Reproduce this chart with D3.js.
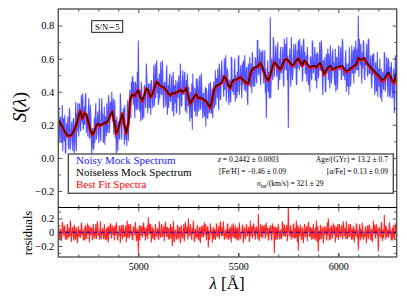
<!DOCTYPE html>
<html><head><meta charset="utf-8">
<script src="https://cdn.jsdelivr.net/npm/d3@7"></script>
<style>body{margin:0;background:#fff}svg{display:block}text{font-family:"Liberation Serif","DejaVu Serif",serif}</style>
</head><body><svg id="c" width="407" height="305"></svg>
<script>
// ---- data ----
const modelStart = 4600, modelStep = 10;
const noiseless = [0.232,0.21,0.19,0.165,0.145,0.134,0.135,0.145,0.17,0.20,
0.245,0.28,0.238,0.27,0.265,0.22,0.172,0.142,0.16,0.195,
0.208,0.196,0.205,0.21,0.214,0.228,0.26,0.278,0.218,0.15,
0.175,0.225,0.264,0.205,0.152,0.21,0.36,0.38,0.375,0.392,
0.408,0.368,0.348,0.38,0.418,0.41,0.37,0.385,0.42,0.458,
0.452,0.436,0.432,0.424,0.41,0.39,0.38,0.392,0.392,0.396,
0.402,0.412,0.398,0.405,0.422,0.37,0.33,0.352,0.372,0.384,
0.362,0.364,0.36,0.35,0.344,0.322,0.306,0.36,0.418,0.435,
0.442,0.448,0.462,0.49,0.476,0.44,0.425,0.462,0.472,0.474,
0.482,0.487,0.478,0.466,0.455,0.45,0.51,0.535,0.546,0.55,
0.558,0.572,0.552,0.515,0.484,0.472,0.502,0.548,0.576,0.566,
0.55,0.535,0.56,0.592,0.598,0.59,0.572,0.56,0.57,0.59,
0.598,0.58,0.562,0.59,0.578,0.56,0.548,0.556,0.556,0.55,
0.565,0.575,0.54,0.51,0.532,0.55,0.558,0.537,0.54,0.548,
0.551,0.555,0.557,0.538,0.525,0.53,0.54,0.55,0.558,0.566,
0.605,0.594,0.598,0.606,0.58,0.565,0.552,0.538,0.525,0.512,
0.5,0.488,0.47,0.478,0.5,0.518,0.495,0.47,0.458,0.515];
const bestFit = [0.228,0.206,0.186,0.162,0.142,0.13,0.133,0.143,0.168,0.198,
0.242,0.284,0.234,0.272,0.262,0.216,0.168,0.138,0.158,0.193,
0.206,0.193,0.203,0.208,0.212,0.226,0.258,0.282,0.214,0.145,
0.172,0.222,0.268,0.2,0.146,0.205,0.355,0.384,0.372,0.39,
0.41,0.364,0.342,0.378,0.42,0.408,0.366,0.382,0.418,0.46,
0.45,0.433,0.43,0.42,0.406,0.385,0.376,0.39,0.39,0.394,
0.4,0.414,0.395,0.403,0.425,0.365,0.325,0.35,0.37,0.386,
0.358,0.362,0.357,0.347,0.34,0.318,0.3,0.356,0.416,0.432,
0.44,0.446,0.46,0.494,0.472,0.435,0.42,0.46,0.47,0.472,
0.48,0.488,0.474,0.462,0.45,0.444,0.506,0.532,0.544,0.548,
0.556,0.574,0.548,0.51,0.478,0.466,0.498,0.546,0.578,0.562,
0.546,0.53,0.556,0.59,0.6,0.586,0.568,0.555,0.566,0.588,
0.6,0.576,0.556,0.588,0.574,0.555,0.543,0.552,0.552,0.546,
0.562,0.572,0.534,0.5,0.527,0.546,0.554,0.532,0.536,0.544,
0.547,0.551,0.553,0.532,0.518,0.525,0.535,0.546,0.554,0.563,
0.602,0.59,0.594,0.603,0.574,0.559,0.546,0.532,0.518,0.505,
0.493,0.48,0.462,0.47,0.494,0.512,0.487,0.462,0.45,0.508];
const noisyStart = 4600, noisyStep = 2.5;
const noisy = [
0.32,0.30,0.18,0.10,0.23,0.25,0.09,0.10,0.32,0.04,0.22,0.24,0.10,0.26,0.03,0.03,0.21,0.12,0.15,0.25,
0.08,0.05,0.30,0.28,0.05,0.09,0.17,0.22,0.13,0.04,0.24,0.21,0.03,0.08,0.23,0.34,0.04,0.27,0.16,0.33,
0.24,0.13,0.33,0.30,0.18,0.16,0.38,0.33,0.21,0.39,0.17,0.21,0.31,0.20,0.37,0.39,0.15,0.22,0.25,0.13,
0.28,0.36,0.12,0.12,0.32,0.25,0.10,0.02,0.17,0.18,0.06,0.05,0.24,0.09,
0.26,0.33,0.11,0.15,0.24,0.28,0.16,0.09,0.36,0.24,0.13,0.10,0.27,0.36,0.21,0.27,0.09,0.12,0.31,0.08,
0.25,0.24,0.13,0.33,0.19,0.15,0.35,0.38,0.15,0.20,0.33,0.34,0.26,0.40,0.22,0.23,0.36,0.14,0.27,0.35,
0.12,0.23,0.02,0.25,0.15,0.04,0.21,0.22,0.12,0.11,0.39,0.32,0.20,0.11,0.27,0.20,0.30,0.29,0.08,0.32,
0.11,0.13,0.19,0.07,0.31,0.35,0.10,0.19,0.31,0.41,0.32,0.24,0.46,0.35,
0.49,0.49,0.32,0.46,0.37,0.24,0.46,0.44,0.29,0.33,0.52,0.29,0.71,0.44,0.31,0.28,0.41,0.22,0.46,0.42,
0.23,0.27,0.37,0.24,0.44,0.42,0.33,0.30,0.57,0.50,0.37,0.27,0.44,0.45,0.30,0.31,0.45,0.26,0.47,0.43,
0.35,0.30,0.43,0.56,0.31,0.37,0.57,0.36,0.50,0.59,0.39,0.48,0.32,0.34,0.51,0.36,0.45,0.58,0.39,0.38,
0.59,0.50,0.34,0.30,0.45,0.46,0.40,0.31,0.49,0.56,0.26,0.34,0.44,0.30,
0.48,0.51,0.34,0.35,0.41,0.50,0.28,0.31,0.52,0.25,0.43,0.44,0.33,0.47,0.27,0.28,0.46,0.36,0.41,0.50,
0.36,0.26,0.57,0.47,0.32,0.31,0.43,0.53,0.39,0.38,0.49,0.52,0.28,0.34,0.47,0.27,0.51,0.43,0.31,0.43,
0.34,0.22,0.40,0.38,0.24,0.45,0.17,0.51,0.33,0.43,0.29,0.28,0.42,0.25,0.48,0.41,0.25,0.48,0.36,0.28,
0.42,0.50,0.29,0.31,0.51,0.43,0.31,0.24,0.39,0.39,0.26,0.25,0.43,0.19,
0.42,0.40,0.24,0.24,0.35,0.45,0.27,0.28,0.46,0.43,0.27,0.27,0.42,0.24,0.39,0.46,0.30,0.36,0.53,0.32,
0.48,0.48,0.36,0.54,0.41,0.29,0.57,0.51,0.35,0.36,0.53,0.59,0.45,0.50,0.42,0.37,0.60,0.41,0.54,0.62,
0.34,0.42,0.54,0.52,0.42,0.32,0.47,0.47,0.34,0.34,0.61,0.60,0.41,0.40,0.48,0.38,0.53,0.60,0.34,0.50,
0.40,0.36,0.52,0.40,0.61,0.62,0.38,0.44,0.51,0.56,0.45,0.36,0.57,0.44,
0.59,0.57,0.41,0.62,0.46,0.40,0.53,0.55,0.36,0.32,0.57,0.50,0.45,0.61,0.43,0.44,0.57,0.39,0.64,0.59,
0.43,0.48,0.55,0.43,0.61,0.59,0.48,0.45,0.71,0.71,0.51,0.50,0.60,0.66,0.48,0.44,0.64,0.53,0.64,0.65,
0.50,0.45,0.54,0.65,0.39,0.54,0.24,0.41,0.52,0.59,0.40,0.52,0.36,0.39,0.85,0.36,0.54,0.60,0.50,0.47,
0.73,0.70,0.49,0.55,0.61,0.68,0.55,0.49,0.64,0.70,0.41,0.50,0.60,0.47,
0.63,0.67,0.51,0.52,0.58,0.67,0.47,0.43,0.72,0.53,0.64,0.69,0.53,0.73,0.47,0.62,0.18,0.48,0.59,0.66,
0.52,0.43,0.73,0.61,0.47,0.49,0.60,0.69,0.55,0.54,0.66,0.69,0.45,0.44,0.65,0.54,0.71,0.69,0.53,0.72,
0.57,0.55,0.64,0.68,0.46,0.49,0.70,0.72,0.56,0.64,0.51,0.51,0.62,0.46,0.67,0.61,0.44,0.46,0.56,0.40,
0.61,0.61,0.49,0.47,0.71,0.69,0.51,0.53,0.59,0.67,0.47,0.47,0.63,0.42,
0.64,0.62,0.48,0.50,0.61,0.70,0.53,0.53,0.71,0.65,0.47,0.38,0.59,0.58,0.51,0.61,0.40,0.40,0.63,0.51,
0.58,0.66,0.47,0.63,0.53,0.42,0.68,0.61,0.45,0.48,0.61,0.66,0.53,0.58,0.48,0.44,0.66,0.40,0.60,0.61,
0.41,0.46,0.63,0.68,0.54,0.53,0.59,0.67,0.47,0.48,0.72,0.70,0.50,0.50,0.55,0.47,0.60,0.65,0.40,0.57,
0.46,0.43,0.57,0.38,0.67,0.60,0.43,0.45,0.57,0.68,0.51,0.52,0.65,0.45,
0.67,0.64,0.51,0.71,0.56,0.53,0.66,0.53,0.86,0.49,0.72,0.64,0.56,0.69,0.52,0.45,0.64,0.54,0.71,0.70,
0.49,0.47,0.60,0.56,0.64,0.69,0.51,0.49,0.72,0.71,0.51,0.51,0.58,0.62,0.46,0.42,0.62,0.50,0.63,0.63,
0.49,0.38,0.54,0.58,0.40,0.42,0.64,0.37,0.54,0.53,0.43,0.60,0.36,0.41,0.54,0.34,0.48,0.52,0.43,0.41,
0.64,0.61,0.40,0.46,0.53,0.61,0.49,0.37,0.60,0.58,0.37,0.42,0.55,0.36,
0.58,0.51,0.43,0.36,0.49,0.54,0.27,0.34,0.62,0.46,0.56];
const residStart = 4600, residStep = 2.5;
const residuals = [
0.10,0.06,-0.07,-0.10,0.04,0.03,-0.13,-0.08,0.15,0.12,-0.02,-0.05,0.08,0.09,-0.11,0.02,-0.05,-0.11,0.12,0.07,-0.09,-0.04,0.06,-0.06,0.17,0.10,-0.14,-0.03,0.03,0.08,-0.06,-0.12,0.11,0.05,-0.10,-0.09,0.07,0.02,-0.16,-0.11,0.09,-0.07,0.01,0.04,-0.08,-0.06,0.14,0.10,-0.04,0.03,-0.12,-0.08,0.06,-0.12,0.10,0.05,-0.09,-0.09,0.13,0.02,-0.03,0.11,-0.15,-0.07,0.08,-0.04,0.05,0.06,-0.11,-0.10,0.12,0.03,-0.07,-0.08,0.02,0.12,-0.10,-0.05,0.16,0.09,-0.05,0.02,
-0.05,-0.11,0.16,0.07,-0.10,-0.04,0.02,0.06,-0.07,-0.10,0.12,0.03,-0.11,-0.08,0.05,-0.12,0.08,0.05,-0.15,0.09,-0.03,-0.02,0.13,0.11,-0.09,-0.07,0.10,-0.04,0.06,0.06,-0.12,0.10,-0.04,-0.03,0.14,0.08,-0.08,-0.12,0.01,-0.05,0.09,0.09,-0.16,-0.02,0.07,0.11,-0.10,-0.07,0.11,0.04,-0.06,-0.06,0.03,0.10,-0.14,-0.03,0.17,-0.08,0.06,0.12,-0.09,-0.05,0.12,0.09,-0.05,0.02,-0.11,-0.11,0.08,0.07,-0.02,-0.04,0.15,0.06,-0.13,-0.10,0.04,0.03,-0.30,-0.08,0.10,-0.12,
0.09,-0.05,0.01,0.09,-0.08,-0.02,0.14,0.11,-0.04,0.07,-0.12,-0.04,0.06,-0.06,0.10,-0.10,0.22,-0.03,0.13,0.08,-0.03,0.12,-0.15,-0.05,0.08,-0.09,0.05,0.02,-0.11,-0.11,0.12,0.07,-0.07,-0.04,0.02,0.06,-0.10,-0.10,0.16,0.03,-0.05,-0.08,0.10,0.12,-0.07,-0.05,0.04,0.09,-0.13,-0.02,0.15,0.11,-0.02,-0.07,0.08,0.04,-0.11,0.06,-0.05,-0.10,0.12,0.03,-0.09,0.08,-0.20,-0.12,0.17,0.05,-0.14,-0.09,0.03,0.02,-0.06,-0.11,0.11,0.07,-0.10,-0.04,0.07,0.06,-0.16,-0.10,
0.10,0.03,-0.07,-0.08,0.04,0.12,-0.13,-0.05,0.15,0.09,-0.02,-0.02,0.08,-0.11,0.20,0.07,-0.05,-0.04,0.12,0.06,-0.09,-0.10,0.06,-0.03,0.17,0.08,-0.14,-0.12,0.03,0.05,-0.06,-0.09,0.11,0.02,-0.10,-0.11,0.07,0.07,-0.16,-0.04,0.09,-0.06,0.01,0.10,-0.08,-0.03,0.14,0.08,-0.04,0.12,-0.12,-0.05,0.06,0.09,-0.22,0.02,-0.09,-0.11,0.13,0.07,-0.03,0.04,-0.15,-0.06,0.08,-0.10,0.05,0.03,-0.11,-0.08,0.12,0.12,-0.07,-0.05,0.02,0.09,-0.10,-0.02,0.16,0.11,-0.05,0.07,
-0.05,-0.04,0.16,0.06,-0.10,-0.10,0.02,0.03,-0.07,-0.08,0.12,0.12,-0.11,-0.05,0.05,-0.09,0.08,0.02,-0.15,0.11,-0.03,-0.07,0.13,0.04,-0.09,-0.06,0.10,-0.10,0.06,0.03,-0.12,0.08,-0.04,-0.12,0.14,0.05,-0.08,-0.09,0.01,-0.02,0.09,0.11,-0.16,-0.07,0.07,0.04,-0.10,-0.06,0.11,0.10,-0.06,-0.03,0.03,0.08,-0.14,-0.12,0.17,-0.05,0.06,0.09,-0.09,-0.02,0.12,0.11,-0.05,0.07,-0.11,-0.04,0.08,0.06,-0.02,-0.10,0.27,0.03,-0.13,-0.08,0.04,0.12,-0.07,-0.05,0.10,-0.09,
0.09,-0.02,0.01,0.11,-0.08,-0.07,0.14,0.04,-0.04,0.06,-0.12,-0.10,0.06,-0.03,0.10,0.08,-0.09,-0.12,0.13,0.05,-0.03,0.09,-0.30,-0.02,0.08,-0.11,0.05,0.07,-0.11,-0.04,0.12,0.06,-0.07,-0.10,0.02,0.03,-0.10,-0.08,0.16,0.12,-0.05,-0.05,0.10,0.09,-0.07,-0.02,0.04,0.11,-0.13,-0.07,0.36,0.04,-0.02,-0.06,0.08,0.10,-0.11,0.03,-0.05,-0.08,0.12,0.12,-0.09,-0.05,0.06,-0.09,0.17,0.02,-0.14,0.11,-0.27,0.07,-0.06,-0.04,0.11,0.06,-0.10,-0.10,0.07,0.03,-0.16,-0.08,
0.10,0.12,-0.07,-0.05,0.04,0.09,-0.13,-0.02,0.15,0.11,-0.02,-0.07,0.08,0.04,-0.11,0.06,-0.05,-0.10,0.12,0.03,-0.09,-0.08,0.06,-0.12,0.17,0.05,-0.14,0.09,-0.28,0.02,-0.06,-0.11,0.11,0.07,-0.10,-0.04,0.07,0.06,-0.16,-0.10,0.09,-0.03,0.01,0.08,-0.08,-0.12,0.14,-0.05,0.20,0.09,-0.12,-0.02,0.06,-0.11,0.10,0.07,-0.09,-0.04,0.13,0.06,-0.03,0.10,-0.15,-0.03,0.08,-0.08,0.05,0.12,-0.11,-0.05,0.12,0.09,-0.07,-0.02,0.02,0.11,-0.10,-0.07,0.16,0.04,-0.05,0.06,
-0.05,-0.10,0.16,0.03,-0.10,-0.08,0.02,0.12,-0.07,-0.05,0.12,0.09,-0.11,-0.02,0.05,-0.11,0.08,0.07,-0.15,0.04,-0.03,-0.06,0.13,0.10,-0.09,0.03,-0.26,-0.08,0.06,0.12,-0.12,0.05,-0.04,-0.09,0.14,0.02,-0.08,-0.11,0.01,-0.07,0.09,0.04,-0.16,-0.06,0.07,0.10,-0.10,-0.03,0.11,0.08,-0.06,-0.12,0.03,0.05,-0.14,-0.09,0.17,-0.02,0.06,0.11,-0.09,-0.07,0.12,0.04,-0.05,0.06,-0.28,-0.10,0.08,0.03,-0.02,-0.08,0.15,0.12,-0.13,-0.05,0.04,-0.09,0.25,-0.02,0.10,-0.11,
0.09,-0.07,0.01,0.04,-0.08,-0.06,0.14,0.10,-0.04,0.03,-0.12,-0.08,0.06,-0.12,0.10,0.05,-0.09,-0.09,0.13,0.02,-0.03];
const xMajorTicks = [5000, 5500, 6000];
const yTopTicks = [-0.2, 0, 0.2, 0.4, 0.6, 0.8];
const yBotTicks = [-0.2, 0, 0.2];
const yBotLabels = ["\u22120.2", "0", "0.2"];
const legendLabels = ["Noisy Mock Spectrum", "Noiseless Mock Spectrum", "Best Fit Spectra"];

// ---- layout ----
const svg = d3.select("#c");
const L = 58.3, R = 396.7, T1 = 9, B1 = 207.5, B2 = 257;
const x = d3.scaleLinear([4600, 6292], [L, R]);
const yT = d3.scaleLinear([-0.3, 0.9], [B1, T1]);
const yB = d3.scaleLinear([-0.36, 0.36], [B2, B1]);
const fmt = d => d3.format(".1f")(d).replace("-", "\u2212");

const defs = svg.append("defs");
defs.append("clipPath").attr("id","ct").append("rect").attr("x",L).attr("y",T1).attr("width",R-L).attr("height",B1-T1);
defs.append("clipPath").attr("id","cb").append("rect").attr("x",L).attr("y",B1).attr("width",R-L).attr("height",B2-B1);

// top panel series
const gT = svg.append("g").attr("clip-path","url(#ct)");
gT.append("path").datum(noisy)
  .attr("d", d3.line().x((d,i)=>x(noisyStart+i*noisyStep)).y(d=>yT(d)))
  .attr("fill","none").attr("stroke","#2626ff").attr("stroke-opacity",0.8).attr("stroke-width",1.05);
gT.append("path").datum(bestFit)
  .attr("d", d3.line().x((d,i)=>x(modelStart+i*modelStep)).y(d=>yT(d)))
  .attr("fill","none").attr("stroke","#ff0000").attr("stroke-width",2.8).attr("stroke-linejoin","round");
gT.append("path").datum(noiseless)
  .attr("d", d3.line().x((d,i)=>x(modelStart+i*modelStep)).y(d=>yT(d)))
  .attr("fill","none").attr("stroke","#000").attr("stroke-width",1.1).attr("stroke-linejoin","round");

// bottom panel
const gB = svg.append("g").attr("clip-path","url(#cb)");
gB.append("path").datum(residuals)
  .attr("d", d3.line().x((d,i)=>x(residStart+i*residStep)).y(d=>yB(d)))
  .attr("fill","none").attr("stroke","#ff0000").attr("stroke-opacity",0.85).attr("stroke-width",1.05);
gB.append("line").attr("x1",L).attr("x2",R).attr("y1",yB(0)).attr("y2",yB(0))
  .attr("stroke","#0000ff").attr("stroke-width",1).attr("stroke-dasharray","4,3");

// axes helper
function ax(gen, tr, size, vals, labels){
  const g = svg.append("g").attr("transform", tr).call(gen.tickValues(vals).tickSize(size).tickPadding(4).tickFormat(labels||""));
  g.select(".domain").remove();
  g.selectAll("line").attr("stroke","#222").attr("stroke-width",0.8);
  g.selectAll("text").attr("font-size",10.5).attr("fill","#000").style("font-family","'Liberation Serif',serif");
  return g;
}
const xMinor = d3.range(4700, 6292, 100).filter(v => v%500!==0);
[[T1, d3.axisTop],[B1, d3.axisBottom],[B1, d3.axisTop],[B2, d3.axisBottom]].forEach(([yy, gen]) => {
  ax(gen(x), `translate(0,${yy})`, -4, xMajorTicks);
  ax(gen(x), `translate(0,${yy})`, -2.5, xMinor);
});
ax(d3.axisBottom(x), `translate(0,${B2})`, -4, xMajorTicks, d3.format("d")).selectAll("text").attr("dy","0.9em").attr("font-size",10);
ax(d3.axisLeft(yT), `translate(${L},0)`, -4, yTopTicks, fmt);
ax(d3.axisLeft(yT), `translate(${L},0)`, -2.5, [-0.1,0.1,0.3,0.5,0.7]);
ax(d3.axisRight(yT), `translate(${R},0)`, -4, yTopTicks);
ax(d3.axisRight(yT), `translate(${R},0)`, -2.5, [-0.1,0.1,0.3,0.5,0.7]);
ax(d3.axisLeft(yB), `translate(${L},0)`, -4, yBotTicks, (d,i)=>yBotLabels[i]);
ax(d3.axisLeft(yB), `translate(${L},0)`, -2.5, [-0.3,-0.1,0.1,0.3]);
ax(d3.axisRight(yB), `translate(${R},0)`, -4, yBotTicks);
ax(d3.axisRight(yB), `translate(${R},0)`, -2.5, [-0.3,-0.1,0.1,0.3]);

// frames
svg.append("rect").attr("x",L).attr("y",T1).attr("width",R-L).attr("height",B2-T1)
  .attr("fill","none").attr("stroke","#555").attr("stroke-width",1.4);
svg.append("line").attr("x1",L).attr("x2",R).attr("y1",B1).attr("y2",B1).attr("stroke","#000").attr("stroke-width",1);

// S/N box
svg.append("rect").attr("x",91.7).attr("y",20.7).attr("width",31).attr("height",11.6).attr("fill","#fff").attr("stroke","#000").attr("stroke-width",0.9);
svg.append("text").attr("x",107.2).attr("y",29.6).attr("text-anchor","middle").attr("font-size",8.5).text("S/N\u223C5");

// legend box
svg.append("rect").attr("x",68.3).attr("y",154).attr("width",325).attr("height",39.3).attr("fill","#fff").attr("stroke","#444").attr("stroke-width",1.3);
const lc = ["#2020ff","#000","#ff0000"];
legendLabels.forEach((t,i)=>{
  svg.append("text").attr("x",76).attr("y",164+i*11.9).attr("font-size",11).attr("fill",lc[i]).text(t);
});
const info = svg.append("g").attr("font-size",7.6);
let t1 = info.append("text").attr("x",218).attr("y",162);
t1.append("tspan").attr("font-style","italic").text("z");
t1.append("tspan").text(" = 0.2442 \u00B1 0.0003");
info.append("text").attr("x",388).attr("y",162).attr("text-anchor","end").text("Age/(GYr) = 13.2 \u00B1 0.7");
info.append("text").attr("x",219).attr("y",174.2).text("[Fe/H] = \u22120.46 \u00B1 0.09");
info.append("text").attr("x",388).attr("y",174.2).attr("text-anchor","end").text("[\u03B1/Fe] = 0.13 \u00B1 0.09");
let t3 = info.append("text").attr("x",257).attr("y",186);
t3.append("tspan").attr("font-style","italic").text("\u03C3");
t3.append("tspan").attr("font-size",5.5).attr("dy",1.8).text("int");
t3.append("tspan").attr("dy",-1.8).text("/(km/s) = 321 \u00B1 29");

// axis titles
const yl = svg.append("text").attr("transform","translate(26,107) rotate(-90)").attr("text-anchor","middle").attr("font-size",19);
yl.append("tspan").attr("font-style","italic").text("S");
yl.append("tspan").text("(");
yl.append("tspan").attr("font-style","italic").text("\u03BB");
yl.append("tspan").text(")");
svg.append("text").attr("transform","translate(32,233) rotate(-90)").attr("text-anchor","middle").attr("font-size",12.5).text("residuals");
const xl = svg.append("text").attr("x",227).attr("y",289).attr("text-anchor","middle").attr("font-size",17);
xl.append("tspan").attr("font-style","italic").text("\u03BB");
xl.append("tspan").text(" [\u00C5]");
</script></body></html>
